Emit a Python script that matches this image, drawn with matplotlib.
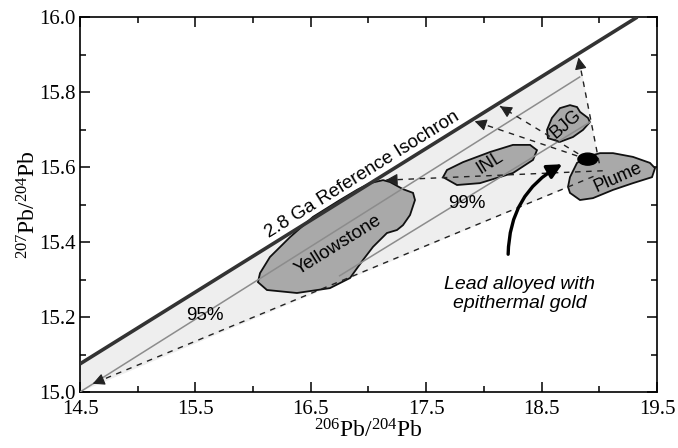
import numpy as np
import matplotlib
matplotlib.use("Agg")
import matplotlib.pyplot as plt
from matplotlib.patches import Polygon, Ellipse, FancyArrowPatch

# --- data ---
isochron_x = [14.5, 19.33]
isochron_y = [15.075, 16.0]

grey_95_x = [14.5, 18.83]
grey_95_y = [15.0, 15.84]
grey_99_x = [16.75, 18.92]
grey_99_y = [15.31, 15.72]

# dashed mixing lines: (start, arrow tip or end)
lower_line = [(18.95, 15.575), (14.61, 15.022)]
horiz_line = [(19.03, 15.59), (17.15, 15.565)]
arrow_lines = [
    [(18.90, 15.62), (17.92, 15.722)],
    [(18.90, 15.62), (18.14, 15.762)],
    [(19.00, 15.61), (18.82, 15.892)],
]

shade_x = [14.5, 14.5, 18.82, 19.0, 18.95, 14.5]
shade_y = [15.0, 15.075, 15.902, 15.61, 15.575, 15.0]

yellowstone_x = [16.042, 16.120, 16.380, 16.666, 16.840, 16.952, 17.039, 17.160, 17.247, 17.299,
                 17.360, 17.403, 17.386, 17.299, 17.186, 17.126, 17.013, 16.900, 16.753, 16.519,
                 16.320, 16.146, 16.060]
yellowstone_y = [15.293, 15.272, 15.264, 15.277, 15.304, 15.352, 15.387, 15.424, 15.432, 15.445,
                 15.472, 15.512, 15.531, 15.541, 15.560, 15.565, 15.557, 15.539, 15.512, 15.467,
                 15.413, 15.360, 15.317]
inl_x = [17.646, 17.767, 17.966, 18.252, 18.426, 18.460, 18.400, 18.252, 18.053, 17.819, 17.680]
inl_y = [15.573, 15.552, 15.557, 15.584, 15.619, 15.645, 15.659, 15.659, 15.640, 15.613, 15.592]
bjg_x = [18.555, 18.659, 18.772, 18.859, 18.919, 18.902, 18.833, 18.807, 18.746, 18.659, 18.590, 18.547]
bjg_y = [15.677, 15.667, 15.680, 15.699, 15.720, 15.731, 15.747, 15.760, 15.765, 15.757, 15.731, 15.699]
plume_x = [18.746, 18.833, 18.945, 19.119, 19.292, 19.457, 19.483, 19.439, 19.292, 19.119,
           19.006, 18.893, 18.807, 18.746, 18.729]
plume_y = [15.531, 15.512, 15.517, 15.539, 15.557, 15.573, 15.597, 15.611, 15.627, 15.637,
           15.637, 15.627, 15.611, 15.573, 15.547]

gold_xy = (18.90, 15.621)
lead_arrow = [(18.21, 15.36), (18.70, 15.611)]

x_ticks = [14.5, 15.5, 16.5, 17.5, 18.5, 19.5]
y_ticks = [15.0, 15.2, 15.4, 15.6, 15.8, 16.0]

plt.rcParams['font.family'] = ['Liberation Sans', 'DejaVu Sans']

fig = plt.figure(figsize=(6.78, 4.48), dpi=100)
ax = fig.add_axes([0.118, 0.125, 0.851, 0.837])
ax.set_xlim(14.5, 19.5)
ax.set_ylim(15.0, 16.0)

# light shaded field
ax.add_patch(Polygon(list(zip(shade_x, shade_y)), closed=True, fc='#eeeeee', ec='none', zorder=1))

# fields
for xs, ys in [(yellowstone_x, yellowstone_y), (inl_x, inl_y), (bjg_x, bjg_y), (plume_x, plume_y)]:
    ax.add_patch(Polygon(list(zip(xs, ys)), closed=True, fc='#a9a9a9', ec='#111111', lw=1.3, zorder=2))

# grey reference lines
ax.plot(grey_95_x, grey_95_y, color='#8c8c8c', lw=1.1, zorder=3)
ax.plot(grey_99_x, grey_99_y, color='#8c8c8c', lw=1.1, zorder=3)

# isochron
ax.plot(isochron_x, isochron_y, color='#333333', lw=2.6, zorder=4, solid_capstyle='butt')

# dashed lines with arrow heads
def dashed_arrow(p0, p1, head=True):
    ax.plot([p0[0], p1[0]], [p0[1], p1[1]], color='#222222', lw=1.0, ls=(0, (4, 4)), zorder=5)
    if head:
        t = 0.06 / np.hypot((p1[0] - p0[0]), (p1[1] - p0[1]) * 3.2)
        tail = (p1[0] - t * (p1[0] - p0[0]), p1[1] - t * (p1[1] - p0[1]))
        ax.annotate('', xy=p1, xytext=tail,
                    arrowprops=dict(arrowstyle='-|>', color='#222222', lw=0.8,
                                    mutation_scale=18, shrinkA=0, shrinkB=0), zorder=6)

dashed_arrow(*lower_line)
dashed_arrow(*horiz_line)
for seg in arrow_lines:
    dashed_arrow(*seg)

# gold blob
ax.add_patch(Ellipse(gold_xy, 0.17, 0.032, angle=0, fc='black', ec='black', zorder=7))

# lead arrow
ax.add_patch(FancyArrowPatch(lead_arrow[0], lead_arrow[1], connectionstyle='arc3,rad=-0.3',
                             arrowstyle='-|>', mutation_scale=22, lw=2.4, color='black', zorder=7))

# texts
kw = dict(transform_rotates_text=True, rotation_mode='anchor', ha='center', va='center', zorder=8)
ang = np.degrees(np.arctan((isochron_y[1] - isochron_y[0]) / (isochron_x[1] - isochron_x[0])))
ax.text(16.95, 15.58, '2.8 Ga Reference Isochron', rotation=ang, fontsize=13.5, **kw)
ax.text(16.74, 15.392, 'Yellowstone', rotation=ang, fontsize=13.5, **kw)
ax.text(18.05, 15.612, 'INL', rotation=ang, fontsize=13, **kw)
ax.text(18.71, 15.713, 'BJG', rotation=ang + 4, fontsize=13, **kw)
ax.text(19.16, 15.572, 'Plume', rotation=ang - 3, fontsize=13, **kw)
ax.text(17.85, 15.504, '99%', fontsize=13.5, ha='center', va='center', zorder=8)
ax.text(15.58, 15.205, '95%', fontsize=13.5, ha='center', va='center', zorder=8)
ax.text(18.31, 15.262, 'Lead alloyed with\nepithermal gold', fontsize=14, style='italic',
        ha='center', va='center', linespacing=1.15, zorder=8)

# axes styling
ax.set_xticks(x_ticks)
ax.set_xticks([15.0, 16.0, 17.0, 18.0, 19.0], minor=True)
ax.set_yticks(y_ticks)
ax.set_yticks([15.1, 15.3, 15.5, 15.7, 15.9], minor=True)
ax.set_xticklabels(['%.1f' % v for v in x_ticks], family='Liberation Serif', fontsize=15)
ax.set_yticklabels(['%.1f' % v for v in y_ticks], family='Liberation Serif', fontsize=15)
ax.tick_params(which='both', direction='in', top=True, right=True, width=1.1)
ax.tick_params(axis='x', which='major', pad=6)
ax.tick_params(axis='y', which='major', pad=3)
ax.tick_params(which='major', length=7)
ax.tick_params(which='minor', length=4)
for s in ax.spines.values():
    s.set_linewidth(1.2)

ax.set_xlabel(r'$\mathregular{^{206}Pb/^{204}Pb}$', family='Liberation Serif', fontsize=17, labelpad=0)
ax.set_ylabel(r'$\mathregular{^{207}Pb/^{204}Pb}$', family='Liberation Serif', fontsize=17, labelpad=-1)

fig.savefig('out.png', dpi=100)
